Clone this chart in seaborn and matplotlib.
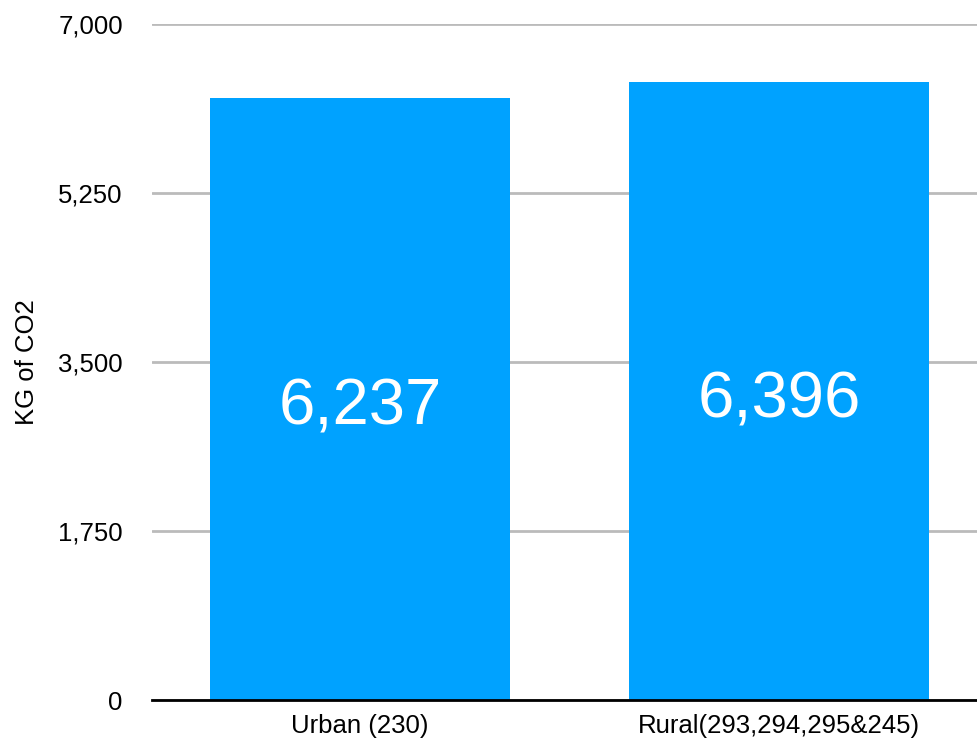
import matplotlib
matplotlib.use("Agg")
import matplotlib.pyplot as plt
import seaborn as sns
import pandas as pd
from matplotlib.ticker import FuncFormatter

categories = ["Urban (230)", "Rural(293,294,295&245)"]
emissions = [6237, 6396]
y_ticks = [0, 1750, 3500, 5250, 7000]

df = pd.DataFrame({"area": categories, "co2": emissions})

sns.set_theme(style="white")
plt.rcParams["font.family"] = ["Liberation Sans", "DejaVu Sans"]

fig = plt.figure(figsize=(9.77, 7.45), dpi=100)
ax = fig.add_axes([152 / 977, 1 - 700 / 745, 1 - 152 / 977, (700 - 24) / 745])

sns.barplot(data=df, x="area", y="co2", color="#00A2FF", saturation=1,
            width=0.714, linewidth=0, edgecolor="none", ax=ax, zorder=3)

ax.set_ylim(0, 7000)
ax.set_xlim(-0.496, 1.472)
ax.set_yticks(y_ticks)
ax.yaxis.set_major_formatter(FuncFormatter(lambda v, _: f"{int(v):,}"))
ax.grid(axis="y", color="#BBBBBB", linewidth=2, zorder=0)
ax.grid(axis="x", visible=False)

for side in ["top", "right", "left"]:
    ax.spines[side].set_visible(False)
ax.spines["bottom"].set_color("black")
ax.spines["bottom"].set_linewidth(2)
ax.spines["bottom"].set_zorder(4)

ax.tick_params(axis="y", length=0, pad=21, labelsize=18.5, labelcolor="black")
ax.tick_params(axis="x", length=0, pad=10, labelsize=18.5, labelcolor="black")
ax.set_xlabel("")
ax.set_ylabel("KG of CO2", fontsize=18.5, color="black", labelpad=14)

for patch, val in zip(ax.patches, emissions):
    ax.annotate(f"{val:,}", (patch.get_x() + patch.get_width() / 2, val / 2),
                xytext=(0, -6.5), textcoords="offset points",
                ha="center", va="center", color="white", fontsize=47, zorder=5)

fig.savefig("out.png", dpi=100)
